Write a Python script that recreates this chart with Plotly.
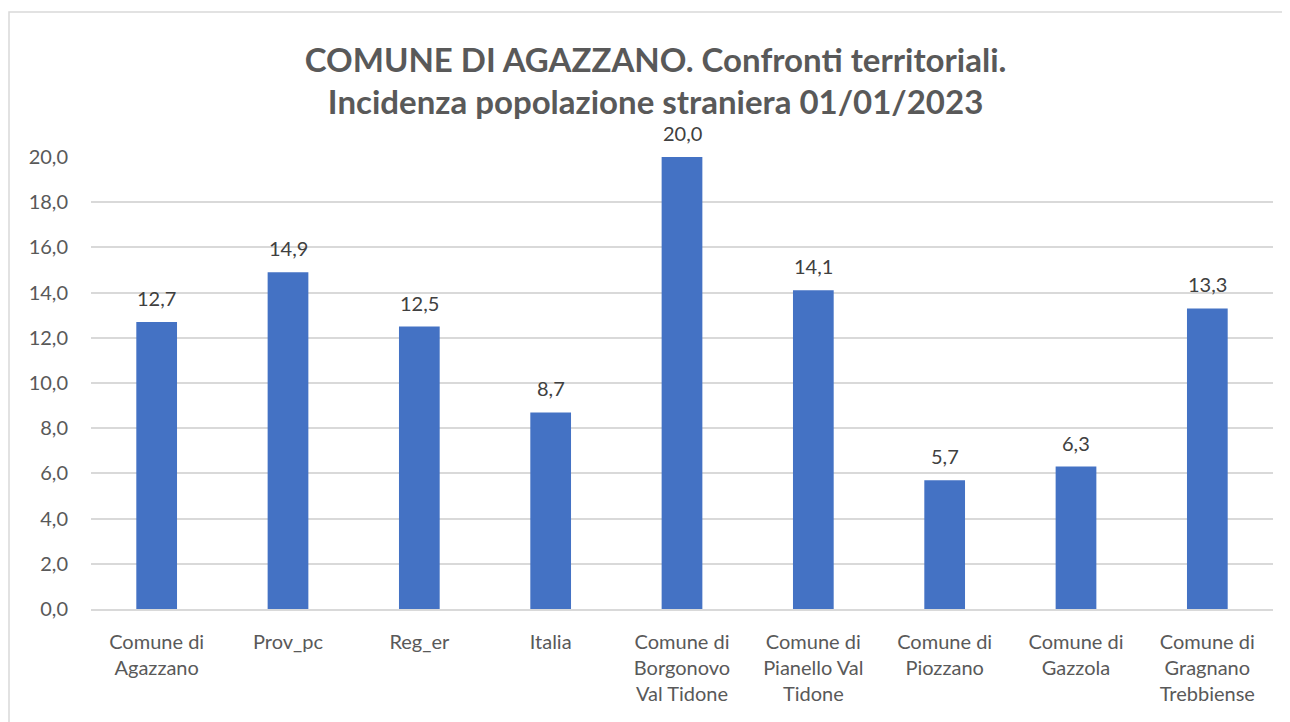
import plotly.graph_objects as go

categories = [
    "Comune di<br>Agazzano",
    "Prov_pc",
    "Reg_er",
    "Italia",
    "Comune di<br>Borgonovo<br>Val Tidone",
    "Comune di<br>Pianello Val<br>Tidone",
    "Comune di<br>Piozzano",
    "Comune di<br>Gazzola",
    "Comune di<br>Gragnano<br>Trebbiense",
]
values = [12.7, 14.9, 12.5, 8.7, 20.0, 14.1, 5.7, 6.3, 13.3]
value_labels = ["12,7", "14,9", "12,5", "8,7", "20,0", "14,1", "5,7", "6,3", "13,3"]
y_ticks = [0, 2, 4, 6, 8, 10, 12, 14, 16, 18, 20]

FONT = "Lato, 'Open Sans', sans-serif"
GRAY = "#595959"

L, T, PW, PH = 83, 149, 1182, 452
W, H = 1290, 722

fig = go.Figure(
    go.Bar(
        x=categories,
        y=values,
        marker=dict(color="#4472C4", line=dict(width=0)),
        width=0.31,
        hoverinfo="x+y",
    )
)

annotations = [
    dict(
        x=c, y=v, xref="x", yref="y", text=t, showarrow=False,
        yanchor="bottom", yshift=10,
        font=dict(family=FONT, size=20, color="#404040"),
    )
    for c, v, t in zip(categories, values, value_labels)
]

fig.update_layout(
    width=W,
    height=H,
    separators=",.",
    paper_bgcolor="white",
    plot_bgcolor="white",
    margin=dict(l=L, r=W - L - PW, t=T, b=H - T - PH),
    font=dict(family=FONT, color=GRAY),
    title=dict(
        text="COMUNE DI AGAZZANO. Confronti territoriali.<br>Incidenza popolazione straniera 01/01/2023",
        x=0.502,
        xanchor="center",
        y=0.912,
        yanchor="middle",
        font=dict(family=FONT, size=33, color=GRAY, weight="bold"),
    ),
    showlegend=False,
    annotations=annotations,
    shapes=[
        dict(
            type="rect", xref="paper", yref="paper",
            x0=(1 - L) / PW, x1=1.05, y0=-0.4, y1=1 + (T - 4) / PH,
            line=dict(color="#D9D9D9", width=1.5), fillcolor="rgba(0,0,0,0)", layer="below",
        )
    ],
)

fig.update_xaxes(
    showgrid=False,
    showline=True,
    linecolor="#D9D9D9",
    linewidth=1.5,
    ticks="",
    tickfont=dict(family=FONT, size=20, color=GRAY),
    ticklabelstandoff=14,
)
fig.update_yaxes(
    range=[0, 20],
    tickvals=y_ticks,
    tickformat=".1f",
    showgrid=True,
    gridcolor="#D9D9D9",
    gridwidth=1.5,
    zeroline=False,
    showline=False,
    ticks="",
    tickfont=dict(family=FONT, size=20, color=GRAY),
    ticklabelstandoff=22,
)

fig.write_html("out.html")
